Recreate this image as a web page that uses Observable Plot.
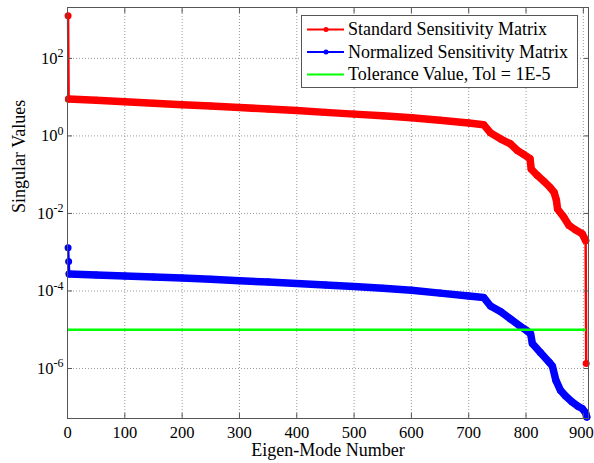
<!DOCTYPE html>
<html>
<head>
<meta charset="utf-8">
<script src="https://cdn.jsdelivr.net/npm/d3@7"></script>
<script src="https://cdn.jsdelivr.net/npm/@observablehq/plot@0.6"></script>
<style>
  html, body { margin: 0; padding: 0; background: #fff; }
  #chart { position: relative; width: 594px; height: 463px; }
</style>
</head>
<body>
<div id="chart"></div>
<script>
// ---- data ----
const xTicks = [0, 100, 200, 300, 400, 500, 600, 700, 800, 900];
const yTickExps = [-6, -4, -2, 0, 2];
const xLabel = "Eigen-Mode Number";
const yLabel = "Singular Values";

const seriesNames = ["Standard Sensitivity Matrix", "Normalized Sensitivity Matrix", "Tolerance Value, Tol = 1E-5"];

const redX = [1, 2, 50, 100, 150, 200, 250, 300, 350, 400, 450, 500, 550, 600, 650, 700, 726, 738, 756, 773, 785, 795, 807, 809, 820, 831, 842, 849, 853, 855, 866, 875, 886, 898, 904, 905];
const redY = [1260, 8.9, 8.3, 7.6, 7.0, 6.4, 5.9, 5.4, 4.95, 4.5, 4.05, 3.65, 3.3, 2.95, 2.55, 2.15, 1.95, 1.2, 0.83, 0.62, 0.42, 0.34, 0.26, 0.14, 0.095, 0.068, 0.047, 0.035, 0.022, 0.013, 0.008, 0.0049, 0.0038, 0.0030, 0.0020, 1.35e-6];

const blueX = [1, 2, 3, 50, 100, 150, 200, 250, 300, 350, 400, 450, 500, 550, 600, 650, 700, 726, 738, 756, 773, 790, 802, 808, 811, 825, 840, 846, 852, 860, 869, 880, 890, 898, 904, 906];
const blueY = [1.31e-3, 5.8e-4, 2.75e-4, 2.6e-4, 2.45e-4, 2.3e-4, 2.15e-4, 2.0e-4, 1.83e-4, 1.7e-4, 1.55e-4, 1.42e-4, 1.3e-4, 1.17e-4, 1.04e-4, 8.8e-5, 7.4e-5, 6.8e-5, 4.1e-5, 2.9e-5, 1.9e-5, 1.23e-5, 9.3e-6, 7.9e-6, 4.4e-6, 2.6e-6, 1.48e-6, 1.15e-6, 5.0e-7, 2.75e-7, 1.95e-7, 1.38e-7, 1.07e-7, 9.3e-8, 7.2e-8, 5.6e-8];

const tolValue = 1e-5;
const tolX = [0, 905];

// ---- build tables ----
const red = redX.map((x, i) => ({x, y: redY[i]}));
const blue = blueX.map((x, i) => ({x, y: blueY[i]}));
const redBand = red.slice(1, red.length - 1);
const blueBand = blue.slice(2);
const tol = [{x1: tolX[0], x2: tolX[1], y: tolValue}];
const yTicks = yTickExps.map(e => Math.pow(10, e));

const font = "'Liberation Serif', 'Times New Roman', serif";
const axisColor = "#555";
const gridStyle = {stroke: "#9a9a9a", strokeOpacity: 1, strokeDasharray: "1,2", strokeWidth: 1};

const svg = Plot.plot({
  width: 594,
  height: 463,
  marginLeft: 67,
  marginRight: 6,
  marginTop: 7,
  marginBottom: 45,
  style: {fontFamily: font, fontSize: "16.5px", color: "#000", background: "#fff", overflow: "visible"},
  x: {domain: [0, 909], label: null},
  y: {type: "log", domain: [Math.pow(10, -7.29), Math.pow(10, 3.313)], label: null},
  marks: [
    Plot.gridX(xTicks, gridStyle),
    Plot.gridY(yTicks, gridStyle),
    // standard
    Plot.line(red, {x: "x", y: "y", stroke: "#ff0000", strokeWidth: 2.5}),
    Plot.line(redBand, {x: "x", y: "y", stroke: "#ff0000", strokeWidth: 7.5, strokeLinejoin: "round", strokeLinecap: "round"}),
    Plot.dot(red, {x: "x", y: "y", r: 3.5, fill: "#ff0000"}),
    // normalized
    Plot.line(blue, {x: "x", y: "y", stroke: "#0000ff", strokeWidth: 2.5}),
    Plot.line(blueBand, {x: "x", y: "y", stroke: "#0000ff", strokeWidth: 7.5, strokeLinejoin: "round", strokeLinecap: "round"}),
    Plot.dot(blue, {x: "x", y: "y", r: 3.5, fill: "#0000ff"}),
    // tolerance
    Plot.ruleY(tol, {x1: "x1", x2: "x2", y: "y", stroke: "#00ff00", strokeWidth: 2.5}),
    Plot.frame({stroke: axisColor, strokeWidth: 1}),
    // inward ticks
    Plot.axisX(xTicks, {anchor: "bottom", tickSize: -5, tickFormat: () => "", stroke: axisColor, label: null}),
    Plot.axisX(xTicks, {anchor: "top", tickSize: -5, tickFormat: () => "", stroke: axisColor, label: null}),
    Plot.axisY(yTicks, {anchor: "left", tickSize: -5, tickFormat: () => "", stroke: axisColor, label: null}),
    Plot.axisY(yTicks, {anchor: "right", tickSize: -5, tickFormat: () => "", stroke: axisColor, label: null}),
    // tick labels
    Plot.axisX(xTicks, {anchor: "bottom", tickSize: 0, tickPadding: 8, label: null, fontSize: 16.5}),
    Plot.axisY(yTicks, {anchor: "left", tickSize: 0, tickPadding: 4, label: null, fontSize: 16.5,
      tickFormat: d => "e" + String(Math.round(Math.log10(d)))}),
    // axis titles
    Plot.text([xLabel], {frameAnchor: "bottom", dy: 37, fontSize: 18, text: d => d}),
    Plot.text([yLabel], {frameAnchor: "left", dx: -48, rotate: -90, fontSize: 18, text: d => d})
  ]
});

// superscript exponents on the log axis labels
const NS = "http://www.w3.org/2000/svg";
svg.querySelectorAll('g[aria-label="y-axis tick label"] text').forEach(t => {
  const s = t.textContent;
  if (!s || s[0] !== "e") return;
  t.textContent = "10";
  const ts = document.createElementNS(NS, "tspan");
  ts.setAttribute("dy", "-0.55em");
  ts.setAttribute("font-size", "12px");
  ts.textContent = s.slice(1);
  t.appendChild(ts);
});
// keep the last x label inside the picture, as in the reference
svg.querySelectorAll('g[aria-label="x-axis tick label"] text').forEach(t => {
  if (t.textContent === String(xTicks[xTicks.length - 1])) t.setAttribute("dx", "-2");
});

// legend box (inside the axes, top right)
const legendColors = ["#ff0000", "#0000ff", "#00ff00"];
const legendMarker = [true, true, false];
const lg = d3.select(svg).append("g").attr("font-family", font).attr("font-size", 18).attr("text-anchor", "start");
lg.append("rect").attr("x", 301.5).attr("y", 15.5).attr("width", 276).attr("height", 72)
  .attr("fill", "#fff").attr("stroke", axisColor);
seriesNames.forEach((name, i) => {
  const y = 29.5 + i * 22.5;
  lg.append("line").attr("x1", 307).attr("x2", 344).attr("y1", y).attr("y2", y)
    .attr("stroke", legendColors[i]).attr("stroke-width", 2);
  if (legendMarker[i]) lg.append("circle").attr("cx", 326).attr("cy", y).attr("r", 2.5).attr("fill", legendColors[i]);
  lg.append("text").attr("x", 348).attr("y", y).attr("dy", "0.33em").attr("text-anchor", "start")
    .attr("fill", "#000").text(name);
});

document.getElementById("chart").appendChild(svg);
</script>
</body>
</html>
